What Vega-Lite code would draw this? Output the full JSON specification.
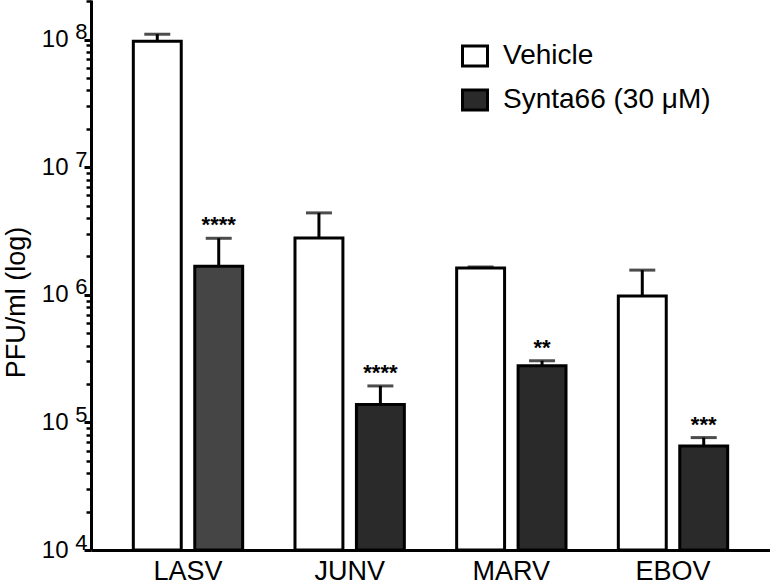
{
  "$schema": "https://vega.github.io/schema/vega-lite/v6.json",
  "width": 679,
  "height": 550,
  "autosize": {"type": "none"},
  "padding": {"left": 91, "top": 0, "right": 0, "bottom": 36},
  "background": "white",
  "config": {
    "view": {"stroke": null},
    "font": "Liberation Sans",
    "axis": {"grid": false, "domainColor": "black", "tickColor": "black", "labelColor": "black", "titleColor": "black"}
  },
  "data": {
    "values": [
      {"virus": "LASV", "treatment": "Vehicle", "mean": 97000000, "hi": 110000000, "sig": ""},
      {"virus": "LASV", "treatment": "Synta66 (30 μM)", "mean": 1670000, "hi": 2770000, "sig": "****"},
      {"virus": "JUNV", "treatment": "Vehicle", "mean": 2790000, "hi": 4380000, "sig": ""},
      {"virus": "JUNV", "treatment": "Synta66 (30 μM)", "mean": 138000, "hi": 193000, "sig": "****"},
      {"virus": "MARV", "treatment": "Vehicle", "mean": 1620000, "hi": 1650000, "sig": ""},
      {"virus": "MARV", "treatment": "Synta66 (30 μM)", "mean": 278000, "hi": 304000, "sig": "**"},
      {"virus": "EBOV", "treatment": "Vehicle", "mean": 978000, "hi": 1560000, "sig": ""},
      {"virus": "EBOV", "treatment": "Synta66 (30 μM)", "mean": 65300, "hi": 76000, "sig": "***"}
    ]
  },
  "encoding": {
    "x": {
      "field": "virus", "type": "nominal", "sort": ["LASV", "JUNV", "MARV", "EBOV"],
      "scale": {"paddingInner": 0.24, "paddingOuter": 0.22},
      "axis": {"title": null, "labelAngle": 0, "labelFontSize": 27, "ticks": false, "domainWidth": 3, "labelPadding": 8}
    },
    "xOffset": {
      "field": "treatment", "type": "nominal", "sort": ["Vehicle", "Synta66 (30 μM)"],
      "scale": {"paddingInner": 0.22, "paddingOuter": 0.11}
    }
  },
  "layer": [
    {
      "mark": {"type": "bar", "stroke": "black", "strokeWidth": 3},
      "encoding": {
        "y": {
          "field": "mean", "type": "quantitative",
          "scale": {"type": "log", "domain": [10000, 204000000], "nice": false},
          "axis": {
            "orient": "left",
            "values": [10000, 100000, 1000000, 10000000, 100000000],
            "labelExpr": "'10'", "labelFontSize": 24, "labelPadding": 16, "labelBaseline": "middle",
            "tickSize": 7, "tickWidth": 3, "domainWidth": 3,
            "title": "PFU/ml (log)", "titleFontSize": 27, "titleFontWeight": "normal",
            "titleX": -75, "titleY": 302, "titleBaseline": "middle", "titleAlign": "center", "titleAngle": -90
          }
        },
        "y2": {"datum": 10000},
        "fill": {
          "condition": {"test": "datum.virus === 'LASV' && datum.treatment !== 'Vehicle'", "value": "#454545"},
          "field": "treatment", "type": "nominal", "sort": ["Vehicle", "Synta66 (30 μM)"],
          "scale": {"range": ["white", "#2a2a2a"]},
          "legend": {
            "title": null, "orient": "none", "legendX": 370, "legendY": 42,
            "symbolType": "M-1,-0.8L1,-0.8L1,0.8L-1,0.8Z", "symbolSize": 625,
            "symbolStrokeColor": "black", "symbolStrokeWidth": 3,
            "labelFontSize": 28, "labelColor": "black", "labelOffset": 14, "rowPadding": 12, "labelLimit": 400
          }
        }
      }
    },
    {
      "mark": {"type": "rule", "strokeWidth": 3, "color": "black"},
      "encoding": {
        "y": {
          "field": "mean", "type": "quantitative",
          "axis": {
            "orient": "left",
            "values": [10000, 100000, 1000000, 10000000, 100000000],
            "labelExpr": "'' + round(log(datum.value) / LN10)", "labelFontSize": 22, "labelPadding": 4,
            "labelBaseline": "middle", "labelOffset": -8, "ticks": false, "domain": false, "title": null
          }
        },
        "y2": {"field": "hi"}
      }
    },
    {
      "mark": {"type": "tick", "thickness": 3, "size": 26, "color": "black", "orient": "horizontal"},
      "encoding": {
        "y": {
          "field": "hi", "type": "quantitative",
          "axis": {
            "orient": "left",
            "values": [20000, 30000, 40000, 50000, 60000, 70000, 80000, 90000,
                       200000, 300000, 400000, 500000, 600000, 700000, 800000, 900000,
                       2000000, 3000000, 4000000, 5000000, 6000000, 7000000, 8000000, 9000000,
                       20000000, 30000000, 40000000, 50000000, 60000000, 70000000, 80000000, 90000000, 200000000],
            "labels": false, "domain": false, "tickSize": 5, "tickWidth": 2.5, "title": null
          }
        }
      }
    },
    {
      "mark": {"type": "text", "fontSize": 22, "fontWeight": "bold", "baseline": "alphabetic", "dy": -6, "align": "center", "color": "black"},
      "encoding": {
        "y": {"field": "hi", "type": "quantitative", "axis": null},
        "text": {"field": "sig"}
      }
    }
  ],
  "resolve": {"axis": {"y": "independent"}}
}
